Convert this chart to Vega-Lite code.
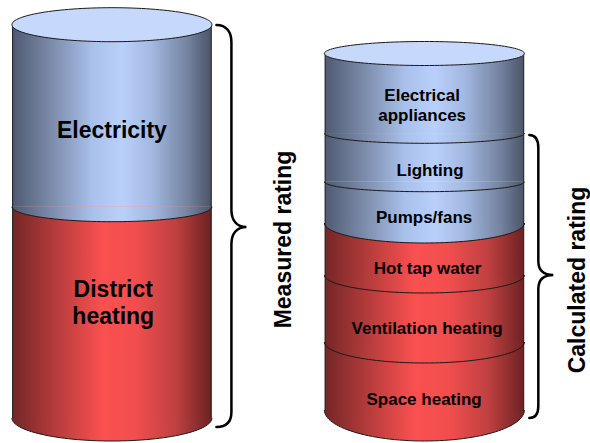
{
  "$schema": "https://vega.github.io/schema/vega-lite/v6.json",
  "width": 590,
  "height": 443,
  "padding": 0,
  "autosize": {"type": "fit", "contains": "padding"},
  "background": "white",
  "config": {"view": {"stroke": null}, "text": {"font": "Liberation Sans"}},
  "resolve": {"scale": {"shape": "independent"}},
  "datasets": {
    "segments": [
      {"cyl": "Measured", "segment": "Electricity", "label": "Electricity", "group": "electric", "left": 12.7, "right": 212.7, "center": 112.7, "top": 24.7, "bottom": 206.7, "labelX": 112.7, "labelY": 131},
      {"cyl": "Measured", "segment": "District heating", "label": "District\nheating", "group": "heat", "left": 12.7, "right": 212.7, "center": 112.7, "top": 206.7, "bottom": 418, "labelX": 114, "labelY": 290},
      {"cyl": "Calculated", "segment": "Electrical appliances", "label": "Electrical\nappliances", "group": "electric", "left": 327.3, "right": 527.3, "center": 427.3, "top": 53.5, "bottom": 133.3, "labelX": 425, "labelY": 96},
      {"cyl": "Calculated", "segment": "Lighting", "label": "Lighting", "group": "electric", "left": 327.3, "right": 527.3, "center": 427.3, "top": 133.3, "bottom": 181.7, "labelX": 433, "labelY": 171},
      {"cyl": "Calculated", "segment": "Pumps/fans", "label": "Pumps/fans", "group": "electric", "left": 327.3, "right": 527.3, "center": 427.3, "top": 181.7, "bottom": 223, "labelX": 427, "labelY": 218},
      {"cyl": "Calculated", "segment": "Hot tap water", "label": "Hot tap water", "group": "heat", "left": 327.3, "right": 527.3, "center": 427.3, "top": 223, "bottom": 275, "labelX": 430.5, "labelY": 269},
      {"cyl": "Calculated", "segment": "Ventilation heating", "label": "Ventilation heating", "group": "heat", "left": 327.3, "right": 527.3, "center": 427.3, "top": 275, "bottom": 342, "labelX": 430, "labelY": 329},
      {"cyl": "Calculated", "segment": "Space heating", "label": "Space heating", "group": "heat", "left": 327.3, "right": 527.3, "center": 427.3, "top": 342, "bottom": 410, "labelX": 427, "labelY": 399.5}
    ],
    "cylinders": [
      {"cyl": "Measured", "left": 12.7, "right": 212.7, "center": 112.7, "top": 24.7, "bottom": 418},
      {"cyl": "Calculated", "left": 327.3, "right": 527.3, "center": 427.3, "top": 53.5, "bottom": 410}
    ],
    "braces": [
      {"cyl": "Measured", "x": 233, "y": 227},
      {"cyl": "Calculated", "x": 542, "y": 275}
    ],
    "titles": [
      {"title": "Measured rating", "x": 293, "y": 239.5},
      {"title": "Calculated rating", "x": 589, "y": 280}
    ]
  },
  "layer": [
    {
      "data": {"name": "segments"},
      "mark": {"type": "rect", "strokeWidth": 0},
      "encoding": {
        "x": {"field": "left", "type": "quantitative", "scale": {"domain": [0, 590], "nice": false, "zero": false}, "axis": null},
        "x2": {"field": "right"},
        "y": {"field": "top", "type": "quantitative", "scale": {"domain": [0, 443], "nice": false, "zero": false, "reverse": true}, "axis": null},
        "y2": {"field": "bottom"},
        "fill": {
          "condition": {"test": "datum.group === 'heat'", "value": {"gradient": "linear", "x1": 0, "y1": 0, "x2": 1, "y2": 0, "stops": [{"offset": 0, "color": "#742626"}, {"offset": 0.2, "color": "#b03a3a"}, {"offset": 0.45, "color": "#fa5050"}, {"offset": 0.62, "color": "#f24e4e"}, {"offset": 0.82, "color": "#c04040"}, {"offset": 1, "color": "#6c2222"}]}},
          "value": {"gradient": "linear", "x1": 0, "y1": 0, "x2": 1, "y2": 0, "stops": [{"offset": 0, "color": "#4f5a72"}, {"offset": 0.2, "color": "#7c8cab"}, {"offset": 0.4, "color": "#a9c0ea"}, {"offset": 0.55, "color": "#b9d0fa"}, {"offset": 0.7, "color": "#a3b9e2"}, {"offset": 0.88, "color": "#74839f"}, {"offset": 1, "color": "#4b5468"}]}
        }
      }
    },
    {
      "data": {"name": "segments"},
      "mark": {"type": "point", "filled": true, "opacity": 1, "size": 40000, "stroke": "#1a1a1a", "strokeWidth": 1},
      "encoding": {
        "x": {"field": "center", "type": "quantitative", "scale": {"domain": [0, 590], "nice": false, "zero": false}, "axis": null},
        "y": {"field": "bottom", "type": "quantitative", "scale": {"domain": [0, 443], "nice": false, "zero": false, "reverse": true}, "axis": null},
        "fill": {
          "condition": {"test": "datum.group === 'heat'", "value": {"gradient": "linear", "x1": 0, "y1": 0, "x2": 1, "y2": 0, "stops": [{"offset": 0, "color": "#742626"}, {"offset": 0.2, "color": "#b03a3a"}, {"offset": 0.45, "color": "#fa5050"}, {"offset": 0.62, "color": "#f24e4e"}, {"offset": 0.82, "color": "#c04040"}, {"offset": 1, "color": "#6c2222"}]}},
          "value": {"gradient": "linear", "x1": 0, "y1": 0, "x2": 1, "y2": 0, "stops": [{"offset": 0, "color": "#4f5a72"}, {"offset": 0.2, "color": "#7c8cab"}, {"offset": 0.4, "color": "#a9c0ea"}, {"offset": 0.55, "color": "#b9d0fa"}, {"offset": 0.7, "color": "#a3b9e2"}, {"offset": 0.88, "color": "#74839f"}, {"offset": 1, "color": "#4b5468"}]}
        },
        "shape": {"field": "segment", "type": "nominal", "legend": null, "scale": {"domain": ["Electricity", "District heating", "Electrical appliances", "Lighting", "Pumps/fans", "Hot tap water", "Ventilation heating", "Space heating"], "range": ["M-1,0 C-1,0.0828 -0.5523,0.15 0,0.15 C0.5523,0.15 1,0.0828 1,0", "M-1,0 C-1,0.127 -0.5523,0.23 0,0.23 C0.5523,0.23 1,0.127 1,0", "M-1,0 C-1,0.0552 -0.5523,0.1 0,0.1 C0.5523,0.1 1,0.0552 1,0", "M-1,0 C-1,0.0553 -0.5523,0.1 0,0.1 C0.5523,0.1 1,0.0553 1,0", "M-1,0 C-1,0.1105 -0.5523,0.2 0,0.2 C0.5523,0.2 1,0.1105 1,0", "M-1,0 C-1,0.0994 -0.5523,0.18 0,0.18 C0.5523,0.18 1,0.0994 1,0", "M-1,0 C-1,0.116 -0.5523,0.21 0,0.21 C0.5523,0.21 1,0.116 1,0", "M-1,0 C-1,0.1712 -0.5523,0.31 0,0.31 C0.5523,0.31 1,0.1712 1,0"]}}
      }
    },
    {
      "data": {"name": "cylinders"},
      "mark": {"type": "rule", "stroke": "#1a1a1a", "strokeWidth": 1},
      "encoding": {
        "x": {"field": "left", "type": "quantitative", "scale": {"domain": [0, 590], "nice": false, "zero": false}, "axis": null},
        "y": {"field": "top", "type": "quantitative", "scale": {"domain": [0, 443], "nice": false, "zero": false, "reverse": true}, "axis": null},
        "y2": {"field": "bottom"}
      }
    },
    {
      "data": {"name": "cylinders"},
      "mark": {"type": "rule", "stroke": "#1a1a1a", "strokeWidth": 1},
      "encoding": {
        "x": {"field": "right", "type": "quantitative", "scale": {"domain": [0, 590], "nice": false, "zero": false}, "axis": null},
        "y": {"field": "top", "type": "quantitative", "scale": {"domain": [0, 443], "nice": false, "zero": false, "reverse": true}, "axis": null},
        "y2": {"field": "bottom"}
      }
    },
    {
      "data": {"name": "cylinders"},
      "mark": {"type": "point", "filled": true, "opacity": 1, "size": 40000, "fill": "#c6d9fc", "stroke": "#1a1a1a", "strokeWidth": 1},
      "encoding": {
        "x": {"field": "center", "type": "quantitative", "scale": {"domain": [0, 590], "nice": false, "zero": false}, "axis": null},
        "y": {"field": "top", "type": "quantitative", "scale": {"domain": [0, 443], "nice": false, "zero": false, "reverse": true}, "axis": null},
        "shape": {"field": "cyl", "type": "nominal", "legend": null, "scale": {"domain": ["Measured", "Calculated"], "range": ["M-1,0 C-1,-0.0939 -0.5523,-0.17 0,-0.17 C0.5523,-0.17 1,-0.0939 1,0 C1,0.0939 0.5523,0.17 0,0.17 C-0.5523,0.17 -1,0.0939 -1,0 Z", "M-1,0 C-1,-0.0663 -0.5523,-0.12 0,-0.12 C0.5523,-0.12 1,-0.0663 1,0 C1,0.0663 0.5523,0.12 0,0.12 C-0.5523,0.12 -1,0.0663 -1,0 Z"]}}
      }
    },
    {
      "data": {"name": "segments"},
      "transform": [{"filter": "datum.cyl === 'Measured'"}],
      "mark": {"type": "text", "fontSize": 23, "fontWeight": "bold", "color": "black", "align": "center", "baseline": "middle", "lineBreak": "\n", "lineHeight": 27},
      "encoding": {
        "x": {"field": "labelX", "type": "quantitative", "scale": {"domain": [0, 590], "nice": false, "zero": false}, "axis": null},
        "y": {"field": "labelY", "type": "quantitative", "scale": {"domain": [0, 443], "nice": false, "zero": false, "reverse": true}, "axis": null},
        "text": {"field": "label"}
      }
    },
    {
      "data": {"name": "segments"},
      "transform": [{"filter": "datum.cyl === 'Calculated'"}],
      "mark": {"type": "text", "fontSize": 17, "fontWeight": "bold", "color": "black", "align": "center", "baseline": "middle", "lineBreak": "\n", "lineHeight": 20},
      "encoding": {
        "x": {"field": "labelX", "type": "quantitative", "scale": {"domain": [0, 590], "nice": false, "zero": false}, "axis": null},
        "y": {"field": "labelY", "type": "quantitative", "scale": {"domain": [0, 443], "nice": false, "zero": false, "reverse": true}, "axis": null},
        "text": {"field": "label"}
      }
    },
    {
      "data": {"name": "braces"},
      "mark": {"type": "point", "filled": false, "opacity": 1, "size": 40000, "stroke": "black", "strokeWidth": 2.5, "strokeCap": "round"},
      "encoding": {
        "x": {"field": "x", "type": "quantitative", "scale": {"domain": [0, 590], "nice": false, "zero": false}, "axis": null},
        "y": {"field": "y", "type": "quantitative", "scale": {"domain": [0, 443], "nice": false, "zero": false, "reverse": true}, "axis": null},
        "shape": {"field": "cyl", "type": "nominal", "legend": null, "scale": {"domain": ["Measured", "Calculated"], "range": ["M-0.15,-2.02 C-0.05,-2.02 0,-1.95 0,-1.85 L0,-0.17 C0,-0.07 0.05,0 0.15,0 C0.05,0 0,0.07 0,0.17 L0,1.85 C0,1.95 -0.05,2 -0.15,2", "M-0.09,-1.4 C-0.03,-1.4 0,-1.35 0,-1.27 L0,-0.14 C0,-0.05 0.05,0 0.15,0 C0.05,0 0,0.05 0,0.14 L0,1.31 C0,1.39 -0.03,1.43 -0.09,1.43"]}}
      }
    },
    {
      "data": {"name": "titles"},
      "mark": {"type": "text", "fontSize": 23, "fontWeight": "bold", "color": "black", "align": "center", "baseline": "alphabetic", "angle": 270},
      "encoding": {
        "x": {"field": "x", "type": "quantitative", "scale": {"domain": [0, 590], "nice": false, "zero": false}, "axis": null},
        "y": {"field": "y", "type": "quantitative", "scale": {"domain": [0, 443], "nice": false, "zero": false, "reverse": true}, "axis": null},
        "text": {"field": "title"}
      }
    }
  ]
}
